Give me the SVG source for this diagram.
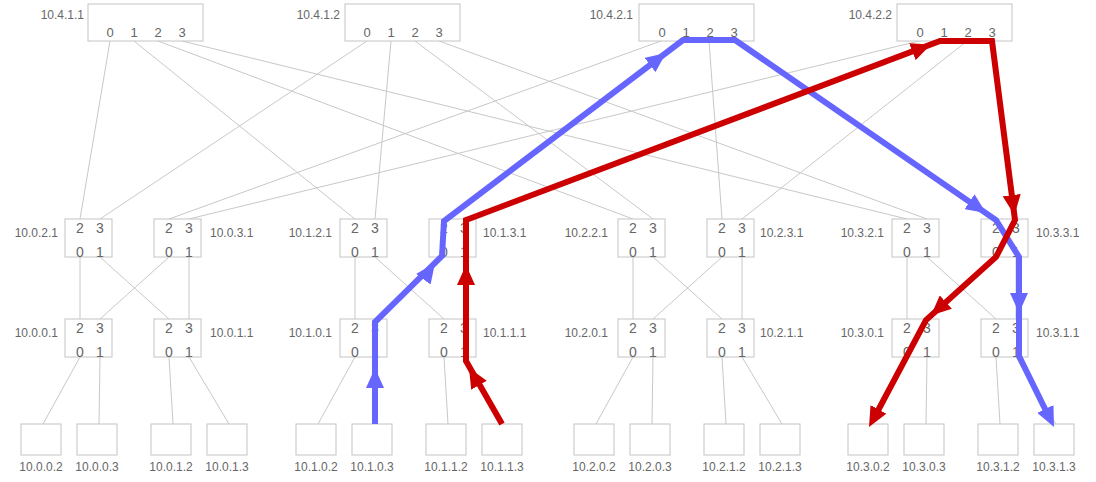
<svg xmlns="http://www.w3.org/2000/svg" width="1096" height="482" viewBox="0 0 1096 482">
<style>
text{font-family:"Liberation Sans",Arial,sans-serif;fill:#666}
.box{fill:#fff;stroke:#c4c4c4;stroke-width:1}
.lbl{font-size:12px}
.cp{font-size:13px;text-anchor:middle}
.sp{font-size:14px;text-anchor:middle}
.hl{font-size:12px;text-anchor:middle}
.r{text-anchor:end}
.ln{stroke:#c8c8c8;stroke-width:1;fill:none}
.blue{stroke:#6666ff;stroke-width:6;fill:none}
.red{stroke:#cc0000;stroke-width:6;fill:none}
.ab{fill:none;stroke:none;marker-end:url(#arrB)}
.ar{fill:none;stroke:none;marker-end:url(#arrR)}
</style>
<defs>
<marker id="arrB" markerUnits="userSpaceOnUse" markerWidth="20" markerHeight="18" viewBox="0 0 20 18" refX="20" refY="9" orient="auto"><path d="M0,0 L20,9 L0,18 Z" fill="#6666ff"/></marker>
<marker id="arrR" markerUnits="userSpaceOnUse" markerWidth="20" markerHeight="18" viewBox="0 0 20 18" refX="20" refY="9" orient="auto"><path d="M0,0 L20,9 L0,18 Z" fill="#cc0000"/></marker>
</defs>
<rect width="1096" height="482" fill="#fff"/>

<g id="connectors">
<g class="ln">
<path d="M110,41 L80,219 M134,41 L355,219 M158,41 L633,219 M182,41 L907,219"/>
<path d="M367,41 L100,219 M391,41 L375,219 M415,41 L653,219 M439,41 L927,219"/>
<path d="M661,41 L169,219 M685,41 L444,219 M709,41 L722,219 M733,41 L996,219"/>
<path d="M919,41 L189,219 M943,41 L464,219 M967,41 L742,219 M991,41 L1016,219"/>
<path d="M80,257 L80,319 M100,257 L169,319 M169,257 L100,319 M189,257 L189,319"/>
<path d="M355,257 L355,319 M375,257 L444,319 M444,257 L375,319 M464,257 L464,319"/>
<path d="M633,257 L633,319 M653,257 L722,319 M722,257 L653,319 M742,257 L742,319"/>
<path d="M907,257 L907,319 M927,257 L996,319 M996,257 L927,319 M1016,257 L1016,319"/>
<path d="M80,357 L43,424 M100,357 L99,424 M169,357 L173,424 M189,357 L229,424"/>
<path d="M355,357 L318,424 M375,357 L374,424 M444,357 L448,424 M464,357 L504,424"/>
<path d="M633,357 L596,424 M653,357 L652,424 M722,357 L726,424 M742,357 L782,424"/>
<path d="M907,357 L870,424 M927,357 L926,424 M996,357 L1000,424 M1016,357 L1056,424"/>
</g>
</g>

<g id="core-10.4.1.1"><rect class="box" x="88" y="4" width="115" height="37"/><text class="lbl r" x="84" y="19">10.4.1.1</text>
<text class="cp" x="110" y="37">0</text><text class="cp" x="134" y="37">1</text><text class="cp" x="158" y="37">2</text><text class="cp" x="182" y="37">3</text></g>
<g id="core-10.4.1.2"><rect class="box" x="345" y="4" width="115" height="37"/><text class="lbl r" x="340" y="19">10.4.1.2</text>
<text class="cp" x="367" y="37">0</text><text class="cp" x="391" y="37">1</text><text class="cp" x="415" y="37">2</text><text class="cp" x="439" y="37">3</text></g>
<g id="core-10.4.2.1"><rect class="box" x="639" y="4" width="115" height="37"/><text class="lbl r" x="633" y="19">10.4.2.1</text>
<text class="cp" x="662" y="37">0</text><text class="cp" x="686" y="37">1</text><text class="cp" x="710" y="37">2</text><text class="cp" x="734" y="37">3</text></g>
<g id="core-10.4.2.2"><rect class="box" x="897" y="4" width="115" height="37"/><text class="lbl r" x="892" y="19">10.4.2.2</text>
<text class="cp" x="920" y="37">0</text><text class="cp" x="944" y="37">1</text><text class="cp" x="968" y="37">2</text><text class="cp" x="992" y="37">3</text></g>

<g id="agg-10.0.2.1"><rect class="box" x="65" y="219" width="47" height="38"/><text class="lbl r" x="58" y="237">10.0.2.1</text><text class="sp" x="80" y="233">2</text><text class="sp" x="100" y="233">3</text><text class="sp" x="80" y="257">0</text><text class="sp" x="100" y="257">1</text></g>
<g id="agg-10.0.3.1"><rect class="box" x="154" y="219" width="47" height="38"/><text class="lbl" x="210" y="237">10.0.3.1</text><text class="sp" x="169" y="233">2</text><text class="sp" x="189" y="233">3</text><text class="sp" x="169" y="257">0</text><text class="sp" x="189" y="257">1</text></g>
<g id="edge-10.0.0.1"><rect class="box" x="65" y="319" width="47" height="38"/><text class="lbl r" x="58" y="337">10.0.0.1</text><text class="sp" x="80" y="333">2</text><text class="sp" x="100" y="333">3</text><text class="sp" x="80" y="357">0</text><text class="sp" x="100" y="357">1</text></g>
<g id="edge-10.0.1.1"><rect class="box" x="154" y="319" width="47" height="38"/><text class="lbl" x="210" y="337">10.0.1.1</text><text class="sp" x="169" y="333">2</text><text class="sp" x="189" y="333">3</text><text class="sp" x="169" y="357">0</text><text class="sp" x="189" y="357">1</text></g>

<g id="agg-10.1.2.1"><rect class="box" x="340" y="219" width="47" height="38"/><text class="lbl r" x="332" y="237">10.1.2.1</text><text class="sp" x="355" y="233">2</text><text class="sp" x="375" y="233">3</text><text class="sp" x="355" y="257">0</text><text class="sp" x="375" y="257">1</text></g>
<g id="agg-10.1.3.1"><rect class="box" x="429" y="219" width="47" height="38"/><text class="lbl" x="483" y="237">10.1.3.1</text><text class="sp" x="444" y="233">2</text><text class="sp" x="464" y="233">3</text><text class="sp" x="444" y="257">0</text><text class="sp" x="464" y="257">1</text></g>
<g id="edge-10.1.0.1"><rect class="box" x="340" y="319" width="47" height="38"/><text class="lbl r" x="332" y="337">10.1.0.1</text><text class="sp" x="355" y="333">2</text><text class="sp" x="375" y="333">3</text><text class="sp" x="355" y="357">0</text><text class="sp" x="375" y="357">1</text></g>
<g id="edge-10.1.1.1"><rect class="box" x="429" y="319" width="47" height="38"/><text class="lbl" x="483" y="337">10.1.1.1</text><text class="sp" x="444" y="333">2</text><text class="sp" x="464" y="333">3</text><text class="sp" x="444" y="357">0</text><text class="sp" x="464" y="357">1</text></g>

<g id="agg-10.2.2.1"><rect class="box" x="618" y="219" width="47" height="38"/><text class="lbl r" x="608" y="237">10.2.2.1</text><text class="sp" x="633" y="233">2</text><text class="sp" x="653" y="233">3</text><text class="sp" x="633" y="257">0</text><text class="sp" x="653" y="257">1</text></g>
<g id="agg-10.2.3.1"><rect class="box" x="707" y="219" width="47" height="38"/><text class="lbl" x="760" y="237">10.2.3.1</text><text class="sp" x="722" y="233">2</text><text class="sp" x="742" y="233">3</text><text class="sp" x="722" y="257">0</text><text class="sp" x="742" y="257">1</text></g>
<g id="edge-10.2.0.1"><rect class="box" x="618" y="319" width="47" height="38"/><text class="lbl r" x="608" y="337">10.2.0.1</text><text class="sp" x="633" y="333">2</text><text class="sp" x="653" y="333">3</text><text class="sp" x="633" y="357">0</text><text class="sp" x="653" y="357">1</text></g>
<g id="edge-10.2.1.1"><rect class="box" x="707" y="319" width="47" height="38"/><text class="lbl" x="760" y="337">10.2.1.1</text><text class="sp" x="722" y="333">2</text><text class="sp" x="742" y="333">3</text><text class="sp" x="722" y="357">0</text><text class="sp" x="742" y="357">1</text></g>

<g id="agg-10.3.2.1"><rect class="box" x="892" y="219" width="47" height="38"/><text class="lbl r" x="884" y="237">10.3.2.1</text><text class="sp" x="907" y="233">2</text><text class="sp" x="927" y="233">3</text><text class="sp" x="907" y="257">0</text><text class="sp" x="927" y="257">1</text></g>
<g id="agg-10.3.3.1"><rect class="box" x="981" y="219" width="47" height="38"/><text class="lbl" x="1036" y="237">10.3.3.1</text><text class="sp" x="996" y="233">2</text><text class="sp" x="1016" y="233">3</text><text class="sp" x="996" y="257">0</text><text class="sp" x="1016" y="257">1</text></g>
<g id="edge-10.3.0.1"><rect class="box" x="892" y="319" width="47" height="38"/><text class="lbl r" x="884" y="337">10.3.0.1</text><text class="sp" x="907" y="333">2</text><text class="sp" x="927" y="333">3</text><text class="sp" x="907" y="357">0</text><text class="sp" x="927" y="357">1</text></g>
<g id="edge-10.3.1.1"><rect class="box" x="981" y="319" width="47" height="38"/><text class="lbl" x="1036" y="337">10.3.1.1</text><text class="sp" x="996" y="333">2</text><text class="sp" x="1016" y="333">3</text><text class="sp" x="996" y="357">0</text><text class="sp" x="1016" y="357">1</text></g>

<g id="host-10.0.0.2"><rect class="box" x="21" y="424" width="40" height="31"/><text class="hl" x="41" y="471">10.0.0.2</text></g>
<g id="host-10.0.0.3"><rect class="box" x="77" y="424" width="40" height="31"/><text class="hl" x="97" y="471">10.0.0.3</text></g>
<g id="host-10.0.1.2"><rect class="box" x="151" y="424" width="40" height="31"/><text class="hl" x="171" y="471">10.0.1.2</text></g>
<g id="host-10.0.1.3"><rect class="box" x="207" y="424" width="40" height="31"/><text class="hl" x="227" y="471">10.0.1.3</text></g>
<g id="host-10.1.0.2"><rect class="box" x="296" y="424" width="40" height="31"/><text class="hl" x="316" y="471">10.1.0.2</text></g>
<g id="host-10.1.0.3"><rect class="box" x="352" y="424" width="40" height="31"/><text class="hl" x="372" y="471">10.1.0.3</text></g>
<g id="host-10.1.1.2"><rect class="box" x="426" y="424" width="40" height="31"/><text class="hl" x="446" y="471">10.1.1.2</text></g>
<g id="host-10.1.1.3"><rect class="box" x="482" y="424" width="40" height="31"/><text class="hl" x="502" y="471">10.1.1.3</text></g>
<g id="host-10.2.0.2"><rect class="box" x="574" y="424" width="40" height="31"/><text class="hl" x="594" y="471">10.2.0.2</text></g>
<g id="host-10.2.0.3"><rect class="box" x="630" y="424" width="40" height="31"/><text class="hl" x="650" y="471">10.2.0.3</text></g>
<g id="host-10.2.1.2"><rect class="box" x="704" y="424" width="40" height="31"/><text class="hl" x="724" y="471">10.2.1.2</text></g>
<g id="host-10.2.1.3"><rect class="box" x="760" y="424" width="40" height="31"/><text class="hl" x="780" y="471">10.2.1.3</text></g>
<g id="host-10.3.0.2"><rect class="box" x="848" y="424" width="40" height="31"/><text class="hl" x="868" y="471">10.3.0.2</text></g>
<g id="host-10.3.0.3"><rect class="box" x="904" y="424" width="40" height="31"/><text class="hl" x="924" y="471">10.3.0.3</text></g>
<g id="host-10.3.1.2"><rect class="box" x="978" y="424" width="40" height="31"/><text class="hl" x="998" y="471">10.3.1.2</text></g>
<g id="host-10.3.1.3"><rect class="box" x="1034" y="424" width="40" height="31"/><text class="hl" x="1054" y="471">10.3.1.3</text></g>

<g id="flows">
<path class="blue" d="M375,424 L375,322 L442,256 L444,221 L683,40 L735,40 L996,220 L1019,257 L1019,356 L1050,419"/>
<path class="ab" d="M375,372 L375,368"/>
<path class="ab" d="M432.9,265.9 L435,263"/>
<path class="ab" d="M663.6,54.8 L666,53"/>
<path class="ab" d="M983.5,211.3 L986,213"/>
<path class="ab" d="M1019,309 L1019,313"/>
<path class="ab" d="M1052.7,424.3 L1054,427"/>
<path class="red" d="M502,424 L466,361 L466,220 L940,41 L992,41 L1015,220 L996,257 L926,320 L873,420"/>
<path class="ar" d="M470.5,370.6 L469,368"/>
<path class="ar" d="M466,270 L466,265"/>
<path class="ar" d="M928.2,45.5 L931,44.4"/>
<path class="ar" d="M1014,212 L1014.4,215"/>
<path class="ar" d="M933.2,313.5 L931,315.5"/>
<path class="ar" d="M870.4,424.4 L869,427"/>
</g>
</svg>
